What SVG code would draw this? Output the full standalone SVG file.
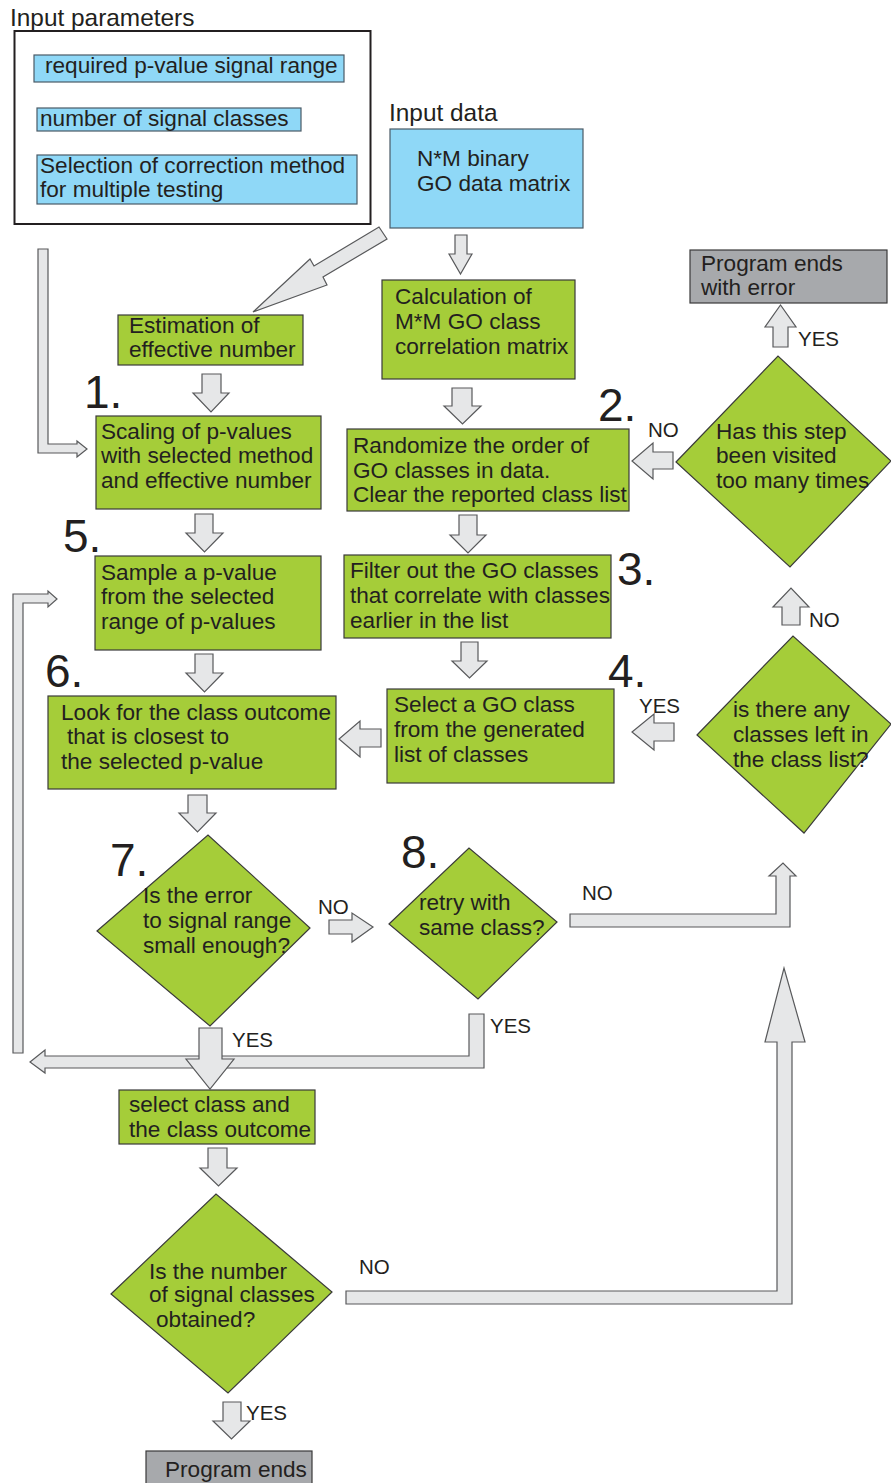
<svg xmlns="http://www.w3.org/2000/svg" width="891" height="1483" viewBox="0 0 891 1483">
<style>
text{font-family:"Liberation Sans",Arial,sans-serif;font-size:22.6px;fill:#231f20}
.lbl{font-size:24.4px}
.yn{font-size:20.5px}
.num{font-size:46px}
.blue{fill:#8fd8f7;stroke:#4a5a66;stroke-width:1.2}
.green{fill:#a5cd39;stroke:#3a3a3a;stroke-width:1.2}
.gray{fill:#a7a9ac;stroke:#3a3a3a;stroke-width:1.2}
.arr{fill:#e6e7e8;stroke:#58595b;stroke-width:1.2;stroke-linejoin:miter}
</style>
<rect width="891" height="1483" fill="#ffffff"/>
<g id="connectors">
<polygon class="arr" points="455,235 467,235 467,254 472,254 460.5,274 449,254 455,254"/>
<polygon class="arr" points="452,388 472,388 472,406 481,406 462.5,424 444,406 452,406"/>
<polygon class="arr" points="202,374 221,374 221,393 229,393 211,412 193,393 202,393"/>
<polygon class="arr" points="195,514 213,514 213,533 223,533 204.5,552 186,533 195,533"/>
<polygon class="arr" points="195,654 213,654 213,673 223,673 204.5,692 186,673 195,673"/>
<polygon class="arr" points="188,795 207,795 207,813 216,813 197.5,832 179,813 188,813"/>
<polygon class="arr" points="459,515 477,515 477,535 486,535 468,553 450,535 459,535"/>
<polygon class="arr" points="461,642 478,642 478,661 487,661 469.5,678 452,661 461,661"/>
<polygon class="arr" points="208,1148 227,1148 227,1168 237,1168 218.5,1186 200,1168 208,1168"/>
<polygon class="arr" points="223,1402 241,1402 241,1421 250,1421 231.5,1439 213,1421 223,1421"/>
<polygon class="arr" points="773,347 788,347 788,327 796,327 780.5,305 765,327 773,327"/>
<polygon class="arr" points="782,625 800,625 800,607 809,607 791,588 773,607 782,607"/>
<polygon class="arr" points="673,452 673,469 653,469 653,479 632,461 653,443 653,452"/>
<polygon class="arr" points="381,729 381,747 360,747 360,757 339,739 360,721 360,729"/>
<polygon class="arr" points="674,723 674,741 654,741 654,750 632,732 654,714 654,723"/>
<polygon class="arr" points="329,920 352,920 352,913 373,927 352,942 352,934 329,934"/>
<polygon class="arr" points="253,312 310,259 314,266 379,227 387,239 323,277 327,285"/>
<polygon class="arr" points="38,249 48,249 48,444 77,444 77,441 87,449 77,457 77,453 38,453"/>
<polygon class="arr" points="13,1053 23,1053 23,603 48,603 48,607 57,599 48,591 48,594 13,594"/>
<polygon class="arr" points="469,1014 484,1014 484,1068 45,1068 45,1073 30,1062 45,1050 45,1056 469,1056"/>
<polygon class="arr" points="199,1028 222,1028 222,1059 234,1059 210,1089 186,1059 199,1059"/>
<polygon class="arr" points="570,914 776,914 776,876 769,876 783,863 796,876 790,876 790,927 570,927"/>
<polygon class="arr" points="346,1291 777,1291 777,1042 765,1042 784,968 805,1042 792,1042 792,1304 346,1304"/>
<text class="yn" x="648" y="437">NO</text>
<text class="yn" x="798" y="346">YES</text>
<text class="yn" x="639" y="713">YES</text>
<text class="yn" x="809" y="627">NO</text>
<text class="yn" x="318" y="914">NO</text>
<text class="yn" x="582" y="900">NO</text>
<text class="yn" x="490" y="1033">YES</text>
<text class="yn" x="232" y="1047">YES</text>
<text class="yn" x="359" y="1274">NO</text>
<text class="yn" x="246" y="1420">YES</text>
</g>
<g id="input-parameters">
<text class="lbl" x="10" y="26">Input parameters</text>
<rect x="14.5" y="31" width="356" height="193" fill="none" stroke="#231f20" stroke-width="2"/>
</g>
<g id="param-range">
<rect class="blue" x="34" y="55" width="310" height="27"/>
<text x="45" y="73">required p-value signal range</text>
</g>
<g id="param-classes">
<rect class="blue" x="37" y="108" width="264" height="23"/>
<text x="40" y="126">number of signal classes</text>
</g>
<g id="param-correction">
<rect class="blue" x="37" y="155" width="320" height="49"/>
<text x="40" y="173">Selection of correction method</text>
<text x="40" y="197">for multiple testing</text>
</g>
<g id="input-data">
<text class="lbl" x="389" y="121">Input data</text>
<rect class="blue" x="390" y="129" width="193" height="99"/>
<text x="417" y="166">N*M binary</text>
<text x="417" y="191">GO data matrix</text>
</g>
<g id="calc">
<rect class="green" x="382" y="280" width="193" height="99"/>
<text x="395" y="304">Calculation of</text>
<text x="395" y="329">M*M GO class</text>
<text x="395" y="354">correlation matrix</text>
</g>
<g id="randomize">
<rect class="green" x="347" y="429" width="282" height="82"/>
<text x="353" y="453">Randomize the order of</text>
<text x="353" y="478">GO classes in data.</text>
<text x="353" y="502">Clear the reported class list</text>
<text class="num" x="598" y="421">2.</text>
</g>
<g id="error-end">
<rect class="gray" x="690" y="250" width="197" height="53"/>
<text x="701" y="271">Program ends</text>
<text x="701" y="295">with error</text>
</g>
<g id="visited">
<polygon class="green" points="676,462 778,356 891,461 790,567"/>
<text x="716" y="439">Has this step</text>
<text x="716" y="463">been visited</text>
<text x="716" y="488">too many times</text>
</g>
<g id="estimation">
<rect class="green" x="118" y="315" width="185" height="50"/>
<text x="129" y="333">Estimation of</text>
<text x="129" y="357">effective number</text>
</g>
<g id="scaling">
<text class="num" x="84" y="408">1.</text>
<rect class="green" x="96" y="416" width="225" height="93"/>
<text x="101" y="439">Scaling of p-values</text>
<text x="101" y="463">with selected method</text>
<text x="101" y="488">and effective number</text>
</g>
<g id="sample">
<text class="num" x="63" y="552">5.</text>
<rect class="green" x="95" y="556" width="226" height="94"/>
<text x="101" y="580">Sample a p-value</text>
<text x="101" y="604">from the selected</text>
<text x="101" y="629">range of p-values</text>
</g>
<g id="look">
<text class="num" x="45" y="687">6.</text>
<rect class="green" x="48" y="696" width="288" height="93"/>
<text x="61" y="720">Look for the class outcome</text>
<text x="67" y="744">that is closest to</text>
<text x="61" y="769">the selected p-value</text>
</g>
<g id="filter">
<rect class="green" x="344" y="555" width="267" height="83"/>
<text x="350" y="578">Filter out the GO classes</text>
<text x="350" y="603">that correlate with classes</text>
<text x="350" y="628">earlier in the list</text>
<text class="num" x="617" y="585">3.</text>
</g>
<g id="select">
<rect class="green" x="387" y="689" width="227" height="94"/>
<text x="394" y="712">Select a GO class</text>
<text x="394" y="737">from the generated</text>
<text x="394" y="762">list of classes</text>
<text class="num" x="608" y="687">4.</text>
</g>
<g id="classes-left">
<polygon class="green" points="697,735 793,636 891,724 804,833"/>
<text x="733" y="717">is there any</text>
<text x="733" y="742">classes left in</text>
<text x="733" y="767">the class list?</text>
</g>
<g id="error-small">
<text class="num" x="110" y="876">7.</text>
<polygon class="green" points="97,931 208,835 310,928 210,1026"/>
<text x="143" y="903">Is the error</text>
<text x="143" y="928">to signal range</text>
<text x="143" y="953">small enough?</text>
</g>
<g id="retry">
<text class="num" x="401" y="868">8.</text>
<polygon class="green" points="389,924 469,848 557,922 478,999"/>
<text x="419" y="910">retry with</text>
<text x="419" y="935">same class?</text>
</g>
<g id="select-class">
<rect class="green" x="119" y="1090" width="196" height="54"/>
<text x="129" y="1112">select class and</text>
<text x="129" y="1137">the class outcome</text>
</g>
<g id="obtained">
<polygon class="green" points="111,1294 216,1194 332,1292 228,1393"/>
<text x="149" y="1279">Is the number</text>
<text x="149" y="1302">of signal classes</text>
<text x="156" y="1327">obtained?</text>
</g>
<g id="end">
<rect class="gray" x="146" y="1451" width="166" height="40"/>
<text x="165" y="1477">Program ends</text>
</g>
</svg>
